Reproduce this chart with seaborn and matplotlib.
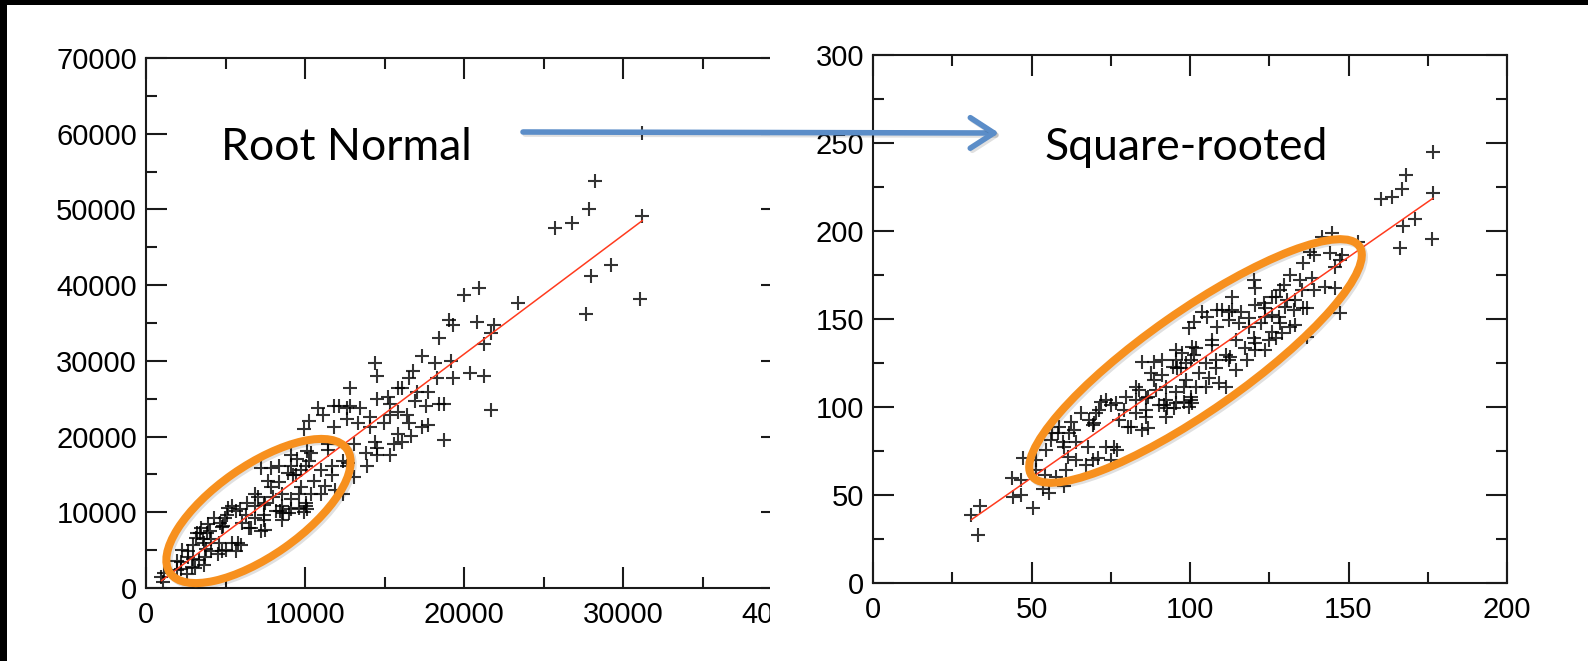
import matplotlib
matplotlib.use("Agg")
import matplotlib.pyplot as plt
import matplotlib.patheffects as pe
from matplotlib.patches import Ellipse, Rectangle, FancyArrowPatch
import numpy as np
import pandas as pd
import seaborn as sns

# points; the left panel shows their squares
root_x = [
    176.7, 168.1, 167.0, 163.6, 160.3, 176.7, 171.0, 167.3, 176.2, 166.4,
    152.9, 144.8, 141.5, 139.0, 135.8, 144.3, 147.9, 145.8, 138.5,
    147.4, 138.0, 131.7, 134.8, 142.7, 145.8, 139.0, 135.3, 130.6, 133.2,
    135.8, 136.9, 132.7, 147.4, 125.9, 123.8, 128.0, 131.7, 133.2, 125.9,
    136.9, 113.3, 110.2, 112.3, 115.4, 118.6, 122.3, 120.6, 124.8,
    120.1, 120.6, 129.6, 113.3, 103.9, 105.4, 108.6, 112.3, 101.3, 99.7,
    108.6, 116.0, 118.6, 120.6, 123.3, 123.8, 127.0, 128.5, 125.9, 120.1,
    114.4, 117.5, 120.6, 123.8, 127.0, 129.0, 128.5, 118.0, 114.4, 111.3,
    112.3, 107.0, 108.1, 104.9, 101.8, 101.3, 100.2, 97.1, 102.8, 106.0,
    109.1, 111.3, 108.1, 104.9, 101.8, 100.2, 98.7, 91.3, 82.9, 95.5,
    107.0, 130.1, 112.6,
    86.6, 92.4, 95.5, 98.1, 99.7,
    61.4, 69.3, 71.4, 73.5, 75.1, 76.7, 79.8, 79.2, 77.7, 80.3,
    81.4, 73.5, 76.1, 77.1, 70.9, 75.1, 82.9, 82.9, 86.1, 86.1,
    86.6, 85.0, 88.7, 87.6, 88.7, 91.3, 92.4, 89.2, 90.3, 91.8,
    92.9, 92.4, 95.0, 94.5, 96.0, 95.5, 97.6, 98.1, 100.2, 100.7,
    100.7, 71.8, 86.2,
    95.5, 98.7, 84.0, 85.0, 68.2,
    31.0, 33.6, 33.1, 43.9, 46.8, 44.1, 46.8, 50.6, 47.3, 51.5,
    51.5, 53.6, 55.4, 54.4, 54.6, 56.5, 56.2, 58.3, 59.9, 60.4,
    58.8, 62.5, 63.5, 61.9, 60.9, 60.4, 57.8, 64.1, 67.2, 67.7,
    69.3, 65.6, 70.4, 69.8, 64.1,
]
root_y = [
    245.1, 231.8, 223.7, 219.5, 218.0, 221.8, 206.6, 203.0, 195.3, 190.2,
    193.9, 199.0, 196.8, 186.4, 181.6, 187.3, 186.4, 179.7, 173.1,
    183.5, 188.2, 175.0, 172.2, 168.4, 167.4, 166.5, 166.5, 160.8, 160.8,
    156.1, 156.1, 155.1, 153.2, 162.7, 151.3, 151.3, 145.7, 146.6, 142.8,
    140.0, 155.1, 155.1, 149.4, 147.6, 145.7, 147.6, 136.2, 138.1,
    172.2, 167.4, 169.3, 162.7, 154.1, 151.3, 155.1, 154.1, 148.5, 144.7,
    145.7, 154.1, 150.4, 158.0, 158.9, 156.1, 162.7, 166.5, 152.3, 139.0,
    138.1, 133.3, 132.4, 132.4, 139.0, 141.9, 147.6, 126.7, 121.0, 129.5,
    126.7, 135.2, 126.7, 124.8, 133.3, 129.5, 126.7, 122.0, 119.1, 116.3,
    113.5, 111.5, 122.0, 111.5, 111.5, 105.9, 115.3, 126.7, 111.5, 108.7,
    138.1, 157.0, 128.6,
    105.9, 104.0, 102.1, 103.0, 100.2,
    71.8, 89.8, 98.3, 104.0, 101.1, 102.1, 105.9, 98.3, 92.6, 88.8,
    88.8, 77.4, 77.4, 75.6, 70.8, 69.9, 96.4, 104.0, 104.9, 94.5,
    87.9, 125.7, 125.7, 119.1, 115.3, 118.2, 111.5, 109.7, 101.1, 101.1,
    99.3, 94.5, 99.3, 123.0, 122.0, 132.4, 130.5, 111.5, 104.0, 102.1,
    134.3, 103.0, 98.3,
    126.7, 124.8, 109.7, 86.9, 92.6,
    38.6, 43.8, 27.3, 59.5, 58.5, 49.0, 50.0, 42.4, 70.8, 69.9,
    64.2, 53.2, 51.0, 61.4, 75.6, 85.1, 81.3, 85.1, 80.3, 77.4,
    88.8, 91.6, 86.9, 85.1, 64.2, 55.1, 60.4, 69.9, 67.0, 77.4,
    69.9, 96.4, 96.4, 90.7, 80.3,
]

left_xticks = [0, 10000, 20000, 30000, 40000]
left_yticks = [0, 10000, 20000, 30000, 40000, 50000, 60000, 70000]
right_xticks = [0, 50, 100, 150, 200]
right_yticks = [0, 50, 100, 150, 200, 250, 300]

labels = ["Root Normal", "Square-rooted"]

W, H = 1588, 661


def px(x, y):
    # pixel position (from top-left) -> inches for dpi_scale_trans
    return x / 100, (H - y) / 100


def style_axes(ax, xlim, ylim, xticks, yticks, xminor, yminor):
    ax.set_xlim(xlim)
    ax.set_ylim(ylim)
    ax.set_xticks(xticks)
    ax.set_yticks(yticks)
    ax.set_xticks(xminor, minor=True)
    ax.set_yticks(yminor, minor=True)
    ax.set_xticklabels([str(t) for t in xticks])
    ax.set_yticklabels([str(t) for t in yticks])
    ax.tick_params(which="both", direction="in", top=True, right=True,
                   width=1.5, color="#1a1a1a")
    ax.tick_params(which="major", length=15, labelsize=21, labelcolor="black")
    ax.tick_params(which="minor", length=8)
    ax.tick_params(axis="x", which="major", pad=9.5)
    ax.tick_params(axis="y", which="major", pad=6.5)
    for s in ax.spines.values():
        s.set_linewidth(1.5)
        s.set_color("#1a1a1a")
    ax.set_xlabel("")
    ax.set_ylabel("")


sns.set_style("ticks")
plt.rcParams["font.family"] = ["Liberation Sans", "DejaVu Sans"]

df = pd.DataFrame({"rx": root_x, "ry": root_y})
df["x"] = df["rx"] ** 2
df["y"] = df["ry"] ** 2

fig = plt.figure(figsize=(W / 100, H / 100), dpi=100)
ax1 = fig.add_axes([146 / W, (H - 588) / H, 636 / W, 530 / H])
ax2 = fig.add_axes([873 / W, (H - 583) / H, 634 / W, 528 / H])

scatter_kws = {"s": 90, "linewidths": 1.5}
line_kws = {"color": "#FF3B1E", "lw": 1.1}

sns.regplot(data=df, x="x", y="y", ax=ax1, ci=None, marker="+", color="black",
            scatter_kws=scatter_kws, line_kws=line_kws)
style_axes(ax1, (0, 40000), (0, 70000), left_xticks, left_yticks,
           np.arange(5000, 40000, 10000), np.arange(5000, 70000, 10000))

sns.regplot(data=df, x="rx", y="ry", ax=ax2, ci=None, marker="+", color="black",
            scatter_kws=scatter_kws, line_kws=line_kws)
style_axes(ax2, (0, 200), (0, 300), right_xticks, right_yticks,
           np.arange(25, 200, 50), np.arange(25, 300, 50))

# the left graph is cropped just before its right edge
fig.add_artist(Rectangle((770 / W, 0), 38 / W, 1, transform=fig.transFigure,
                         facecolor="white", edgecolor="none", zorder=3))
fig.add_artist(Rectangle((770 / W, 0), 68 / W, (H - 590) / H, transform=fig.transFigure,
                         facecolor="white", edgecolor="none", zorder=3))

orange = "#F7901E"
shadow = [pe.SimpleLineShadow(offset=(1.5, -1.5), alpha=0.12), pe.Normal()]
for (cx, cy), w, h in [((258.5, 511), 216, 90), ((1195.5, 361), 400, 100)]:
    e = Ellipse(px(cx, cy), w / 100, h / 100, angle=35, fill=False,
                edgecolor=orange, lw=5.8, transform=fig.dpi_scale_trans, zorder=6)
    e.set_path_effects(shadow)
    fig.add_artist(e)

arrow = FancyArrowPatch(px(523, 132), px(999, 133),
                        arrowstyle="->,head_length=0.85,head_width=0.55",
                        mutation_scale=20, lw=4.0, color="#5B8DC8",
                        shrinkA=0, shrinkB=0, transform=fig.dpi_scale_trans, zorder=8)
arrow.set_path_effects(shadow)
fig.add_artist(arrow)

fig.text(221 / W, 1 - 160 / H, labels[0], fontsize=32, family=["Lato", "DejaVu Sans"],
         color="black", va="baseline", zorder=9)
fig.text(1044 / W, 1 - 160 / H, labels[1], fontsize=32, family=["Lato", "DejaVu Sans"],
         color="black", va="baseline", zorder=9)

# slide frame
fig.add_artist(Rectangle((0, 1 - 5 / H), 1, 5 / H, transform=fig.transFigure,
                         facecolor="black", edgecolor="none", zorder=20))
fig.add_artist(Rectangle((0, 0), 7 / W, 1, transform=fig.transFigure,
                         facecolor="black", edgecolor="none", zorder=20))

plt.savefig("out.png", dpi=100)
plt.close()
